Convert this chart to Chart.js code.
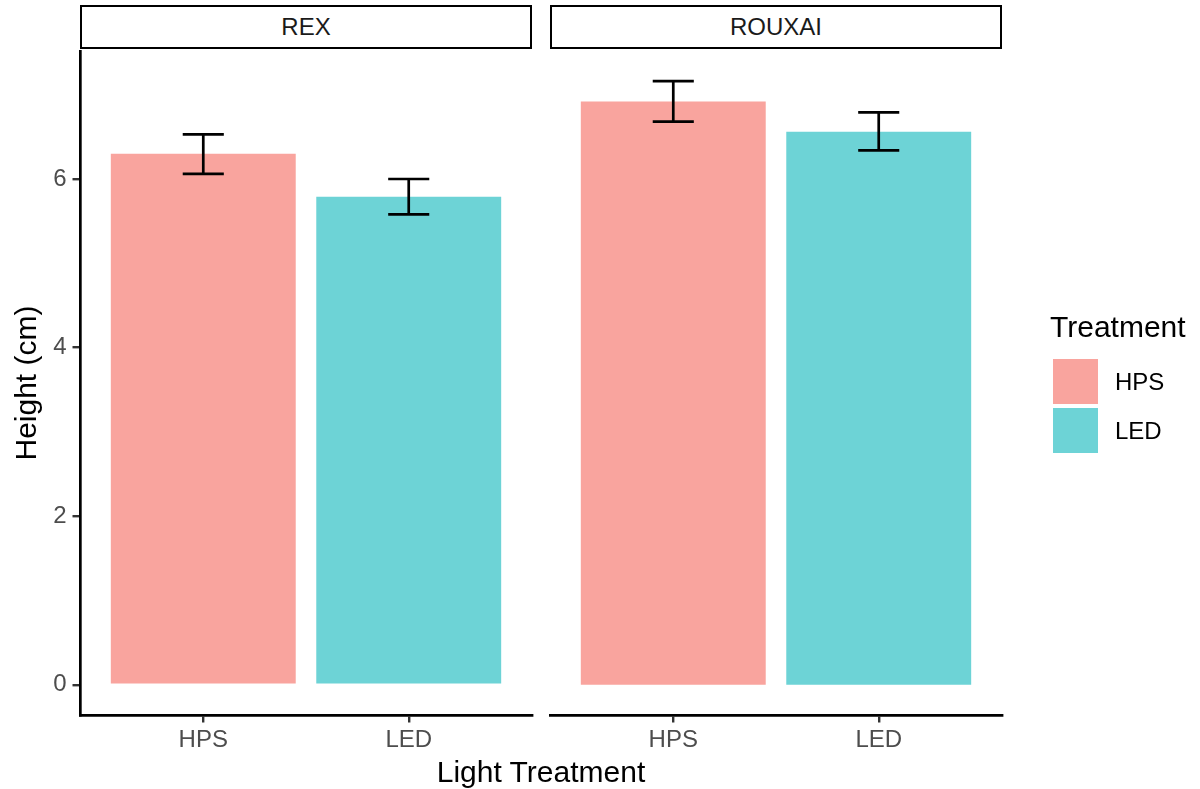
<!DOCTYPE html>
<html>
<head>
<meta charset="utf-8">
<script src="https://cdn.jsdelivr.net/npm/chart.js@4.4.0/dist/chart.umd.min.js"></script>
<style>
  body { margin: 0; background: #fff; font-family: "Liberation Sans", Arial, sans-serif; }
  #wrap { position: relative; width: 1200px; height: 789px; overflow: hidden; }
  canvas { position: absolute; left: 0; top: 0; }
  .strip { position: absolute; top: 5px; height: 44px; width: 452px; box-sizing: border-box;
           border: 2.5px solid #000; background: #fff; text-align: center;
           font-size: 24px; line-height: 39px; color: #1a1a1a; }
  .xtitle { position: absolute; left: 0; width: 1082px; top: 754px; line-height: 36px;
            text-align: center; font-size: 30px; color: #000; }
  .ltitle { position: absolute; left: 1050px; top: 309px; font-size: 30px; line-height: 36px; color: #000; }
  .key { position: absolute; left: 1053px; width: 45px; height: 45px; }
  .klab { position: absolute; left: 1115px; font-size: 24px; line-height: 45px; color: #000; }
</style>
</head>
<body>
<div id="wrap">
  <canvas id="panelRex" width="1200" height="789"></canvas>
  <canvas id="panelRouxai" width="1200" height="789"></canvas>
  <div class="strip" style="left:80px">REX</div>
  <div class="strip" style="left:550px">ROUXAI</div>
  <div class="xtitle">Light Treatment</div>
  <div class="ltitle">Treatment</div>
  <div class="key" style="top:359px;background:#F9A49E"></div>
  <div class="klab" style="top:359px">HPS</div>
  <div class="key" style="top:408px;background:#6DD3D6"></div>
  <div class="klab" style="top:408px">LED</div>
</div>
<script>
// donnees
const treatments = ['HPS', 'LED']
const yTicks = [0, 2, 4, 6]

const rexHeight = [6.30, 5.79]
const rexLower = [6.06, 5.58]
const rexUpper = [6.53, 6.00]

const rouxaiHeight = [6.92, 6.56]
const rouxaiLower = [6.68, 6.34]
const rouxaiUpper = [7.16, 6.79]

const barColors = ['#F9A49E', '#6DD3D6']

// barres d'erreur
const errorBars = {
    id: 'errorBars',
    afterDatasetsDraw(chart, args, opts) {
        const ctx = chart.ctx
        const x = chart.scales.x
        const y = chart.scales.y
        ctx.save()
        ctx.strokeStyle = '#000'
        ctx.lineWidth = 2.7
        for (let i = 0; i < opts.lower.length; i++) {
            const xc = x.getPixelForValue(i + 1)
            const xl = x.getPixelForValue(i + 1 - 0.1)
            const xr = x.getPixelForValue(i + 1 + 0.1)
            const yl = y.getPixelForValue(opts.lower[i])
            const yu = y.getPixelForValue(opts.upper[i])
            ctx.beginPath()
            ctx.moveTo(xc, yl); ctx.lineTo(xc, yu)
            ctx.moveTo(xl, yl); ctx.lineTo(xr, yl)
            ctx.moveTo(xl, yu); ctx.lineTo(xr, yu)
            ctx.stroke()
        }
        ctx.restore()
    }
}

function makePanel(id, heights, lower, upper, showY, padLeft, padRight) {
    const config = {
        type: 'bar',
        data: {
            datasets: [{
                data: heights.map((v, i) => ({ x: i + 1, y: v })),
                backgroundColor: barColors,
                borderWidth: 0,
                barPercentage: 0.9,
                categoryPercentage: 1
            }]
        },
        options: {
            responsive: false,
            animation: false,
            devicePixelRatio: 1,
            layout: { padding: { left: padLeft, right: padRight, top: 51, bottom: 0 } },
            plugins: {
                legend: { display: false },
                tooltip: { enabled: false },
                errorBars: { lower: lower, upper: upper }
            },
            scales: {
                x: {
                    type: 'linear',
                    min: 0.4,
                    max: 2.6,
                    offset: false,
                    afterBuildTicks: (s) => { s.ticks = [{ value: 1 }, { value: 2 }] },
                    afterFit: (s) => { s.height = 74 },
                    ticks: {
                        callback: (v) => treatments[v - 1],
                        font: { family: 'Liberation Sans', size: 24 },
                        color: '#4d4d4d',
                        padding: 3,
                        maxRotation: 0
                    },
                    grid: { offset: false, drawOnChartArea: false, drawTicks: true, tickLength: 7.5, color: '#333', lineWidth: 2.4 },
                    border: { display: true, color: '#000', width: 2.7 }
                },
                y: {
                    display: showY,
                    min: -0.358,
                    max: 7.518,
                    afterBuildTicks: (s) => { s.ticks = yTicks.map(v => ({ value: v })) },
                    afterFit: (s) => { s.width = showY ? 80 : 0 },
                    ticks: {
                        font: { family: 'Liberation Sans', size: 24 },
                        color: '#4d4d4d',
                        padding: 6
                    },
                    grid: { drawOnChartArea: false, drawTicks: true, tickLength: 7.5, color: '#333', lineWidth: 2.4 },
                    border: { display: true, color: '#000', width: 2.7 },
                    title: {
                        display: true,
                        text: 'Height (cm)',
                        font: { family: 'Liberation Sans', size: 30 },
                        color: '#000',
                        padding: { top: 10, bottom: 0 }
                    }
                }
            }
        },
        plugins: [errorBars]
    }
    return new Chart(document.getElementById(id), config)
}

const graficoRex = makePanel('panelRex', rexHeight, rexLower, rexUpper, true, 0, 1200 - 532)
const graficoRouxai = makePanel('panelRouxai', rouxaiHeight, rouxaiLower, rouxaiUpper, false, 550, 1200 - 1002)
</script>
</body>
</html>
